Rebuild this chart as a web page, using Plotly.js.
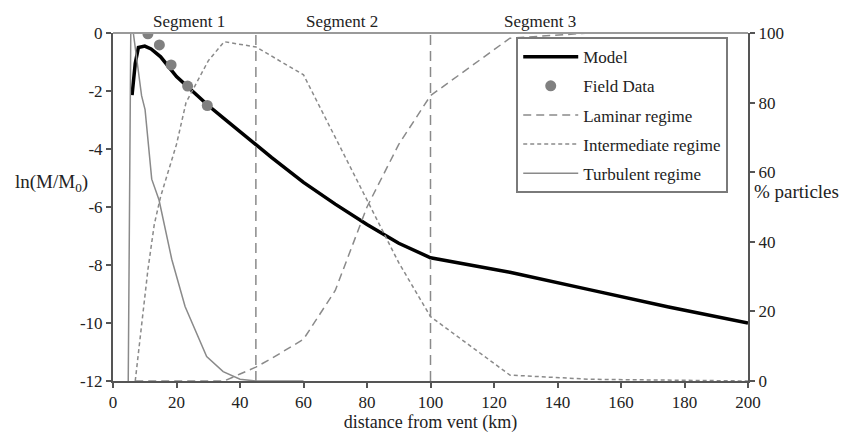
<!DOCTYPE html>
<html>
<head>
<meta charset="utf-8">
<script src="https://cdn.plot.ly/plotly-3.0.1.min.js"></script>
<style>html,body{margin:0;padding:0;background:#fff;}#chart{width:850px;height:435px;}</style>
</head>
<body>
<div id="chart"></div>
<script>
// Model: ln(M/M0) vs distance (km)
const modelX = [6, 7, 8, 10, 12, 15, 20, 25, 30, 35, 40, 45, 50, 60, 70, 80, 90, 100, 125, 150, 175, 200];
const modelY = [-2.14, -1.05, -0.5, -0.45, -0.55, -0.82, -1.5, -2.0, -2.5, -2.95, -3.4, -3.85, -4.3, -5.15, -5.9, -6.6, -7.25, -7.75, -8.25, -8.85, -9.45, -10.0];
// Field data
const fieldX = [11, 14.6, 18.3, 23.5, 29.7];
const fieldY = [-0.03, -0.41, -1.1, -1.83, -2.5];
// Regimes (% particles)
const lamX = [7, 15, 25, 35, 40, 45, 50, 60, 70, 80, 90, 100, 125, 150, 175, 200];
const lamY = [0, 0, 0, 0, 2, 4, 6.5, 12, 26, 50, 68, 82, 98.5, 100, 100, 100];
const intX = [7, 9, 11, 13, 15, 20, 23, 30, 35, 45, 60, 70, 80, 90, 100, 125, 150, 175, 200];
const intY = [0, 16, 32, 45, 53, 68, 80, 92, 97.5, 96, 88, 70, 52, 34, 18.5, 1.7, 0.5, 0.3, 0];
const turX = [4.8, 5.6, 6.4, 7.5, 9, 10.1, 12.2, 14.5, 18.5, 22.7, 29.5, 34.7, 40, 45, 60];
const turY = [0, 100, 100, 93, 82, 78, 58, 52, 35, 21.4, 7, 2.7, 0.5, 0, 0];
// Axis ticks
const xTicks = [0, 20, 40, 60, 80, 100, 120, 140, 160, 180, 200];
const yTicks = [0, -2, -4, -6, -8, -10, -12];
const yTickText = ["0", "-2", "-4", "-6", "-8", "-10", "-12"];
const y2Ticks = [0, 20, 40, 60, 80, 100];
// Segment boundaries and labels
const boundaries = [45, 100];
const segLabels = ["Segment 1", "Segment 2", "Segment 3"];
const segLabelX = [24, 72, 134.5];

const serif = "'Liberation Serif', 'Times New Roman', serif";
const grey = "#8a8a8a";
const txt = "#222";

const traces = [
  {x: modelX, y: modelY, name: "Model", mode: "lines", legendgroup: "a",
   line: {color: "#000", width: 3.5}, yaxis: "y"},
  {x: fieldX, y: fieldY, name: "Field Data", mode: "markers", legendgroup: "b",
   marker: {color: "#808080", size: 11}, yaxis: "y"},
  {x: lamX, y: lamY, name: "Laminar regime", mode: "lines", legendgroup: "c",
   line: {color: grey, width: 1.5, dash: "8px,5px"}, yaxis: "y2"},
  {x: intX, y: intY, name: "Intermediate regime", mode: "lines", legendgroup: "d",
   line: {color: grey, width: 1.5, dash: "4px,3px"}, yaxis: "y2"},
  {x: turX, y: turY, name: "Turbulent regime", mode: "lines", legendgroup: "e",
   line: {color: grey, width: 1.5}, yaxis: "y2"}
];

const shapes = boundaries.map(b => ({
  type: "line", xref: "x", yref: "paper", x0: b, x1: b, y0: 0, y1: 1,
  line: {color: grey, width: 1.5, dash: "10px,6px"}
}));
shapes.push({type: "line", xref: "paper", yref: "paper", x0: 0, x1: 1, y0: 1, y1: 1,
  line: {color: "#9a9a9a", width: 2}});

const annotations = segLabels.map((t, i) => ({
  text: t, x: segLabelX[i], xref: "x", y: 1, yref: "paper", yanchor: "bottom", xanchor: "center",
  showarrow: false, font: {family: serif, size: 17, color: txt}
}));
annotations.push({text: "ln(M/M<sub>0</sub>)", xref: "paper", yref: "paper",
  x: -0.158, xanchor: "left", y: 0.569, showarrow: false, font: {family: serif, size: 19, color: txt}});
annotations.push({text: "% particles", xref: "paper", yref: "paper", xanchor: "left",
  x: 1.007, y: 0.545, showarrow: false, font: {family: serif, size: 19, color: txt}});

const axisCommon = {
  showgrid: false, zeroline: false, showline: true, linecolor: "#555", linewidth: 2,
  ticks: "outside", ticklen: 5, tickwidth: 2, tickcolor: "#555",
  tickfont: {family: serif, size: 17, color: txt}
};

const layout = {
  width: 850, height: 435,
  margin: {l: 113, r: 102, t: 33, b: 54},
  paper_bgcolor: "#fff", plot_bgcolor: "#fff",
  showlegend: true,
  legend: {x: 0.635, y: 0.988, xanchor: "left", yanchor: "top",
    bgcolor: "#fff", bordercolor: "#7a7a7a", borderwidth: 2,
    font: {family: serif, size: 17, color: txt}, itemwidth: 55,
    traceorder: "grouped", tracegroupgap: 4},
  xaxis: Object.assign({}, axisCommon, {range: [0, 200], tickmode: "array", tickvals: xTicks,
    title: {text: "distance from vent (km)", font: {family: serif, size: 18, color: txt}, standoff: 4}}),
  yaxis: Object.assign({}, axisCommon, {range: [-12, 0], tickmode: "array", tickvals: yTicks, ticktext: yTickText}),
  yaxis2: Object.assign({}, axisCommon, {range: [0, 100], tickmode: "array", tickvals: y2Ticks, overlaying: "y", side: "right"}),
  shapes: shapes,
  annotations: annotations
};

Plotly.newPlot("chart", traces, layout, {displayModeBar: false, staticPlot: true});
</script>
</body>
</html>
